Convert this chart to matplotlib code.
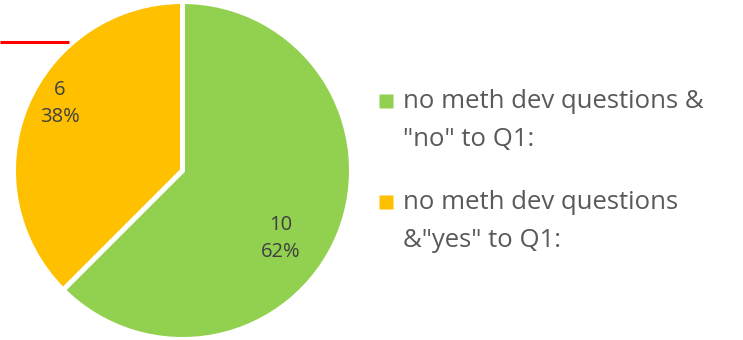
import matplotlib.pyplot as plt

labels = ['no meth dev questions &\n"no" to Q1:', 'no meth dev questions\n&"yes" to Q1:']
counts = [10, 6]
colors = ["#92D050", "#FFC000"]

plt.rcParams["font.family"] = ["Open Sans", "DejaVu Sans"]

W, H = 743, 340
fig = plt.figure(figsize=(W / 100, H / 100), dpi=100)
ax = fig.add_axes([0, 0, 1, 1])

# pie centre and radius in pixel units (y measured from bottom)
cx, cy, r = 182.5, H - 170.5, 169
ax.pie(counts, colors=colors, startangle=90, counterclock=False,
       center=(cx, cy), radius=r, frame=True,
       wedgeprops=dict(edgecolor="white", linewidth=3.6))
ax.set_xlim(0, W)
ax.set_ylim(0, H)
ax.set_aspect("equal")
ax.axis("off")

# data labels (offsets relative to pie centre)
total = sum(counts)
label_pos = [(98.5, -68), (-122.5, 67)]
for n, (dx, dy) in zip(counts, label_pos):
    ax.text(cx + dx, cy + dy, f"{n}\n{round(100 * n / total)}%", ha="center", va="center",
            fontsize=14.5, color="#404040", linespacing=1.45)

# red line at top left
ax.plot([0, 69], [H - 42, H - 42], color="#FF0000", lw=2.2, solid_capstyle="butt")

# legend, drawn by hand so the marker sits on the first line
for i, (lab, c) in enumerate(zip(labels, colors)):
    base = 108 + i * 101
    ax.plot(385.5, H - (base - 7), marker="s", ms=9.4, color=c, mec="none")
    for j, line in enumerate(lab.split("\n")):
        ax.text(403, H - (base + j * 38), line, ha="left", va="baseline",
                fontsize=18.5, color="#595959")

fig.savefig("out.png", dpi=100)
